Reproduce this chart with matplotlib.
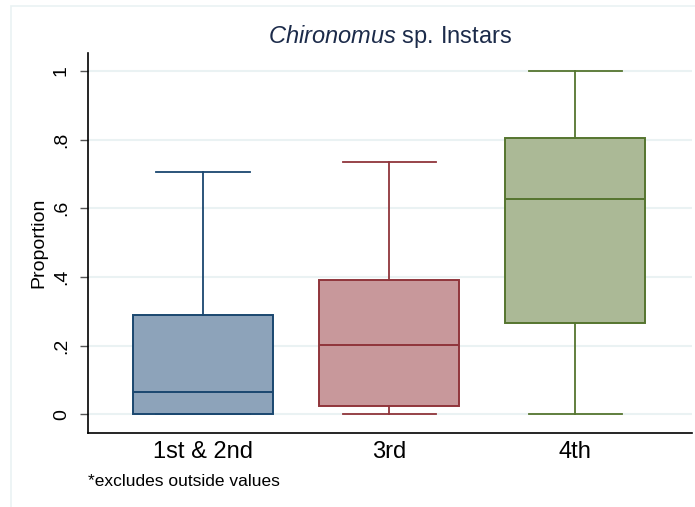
import matplotlib
matplotlib.use("Agg")
import matplotlib.pyplot as plt
from matplotlib.patches import Rectangle

plt.rcParams['font.family'] = ['Liberation Sans', 'DejaVu Sans']
plt.rcParams['mathtext.fontset'] = 'custom'
plt.rcParams['mathtext.it'] = 'Liberation Sans:italic'
plt.rcParams['mathtext.rm'] = 'Liberation Sans'

# box statistics
groups = ['1st & 2nd', '3rd', '4th']
whislo = [0.0, 0.0, 0.0]
q1 = [0.0, 0.024, 0.267]
med = [0.064, 0.201, 0.626]
q3 = [0.288, 0.390, 0.806]
whishi = [0.706, 0.735, 1.0]

yticks = [0, 0.2, 0.4, 0.6, 0.8, 1.0]
ytick_labels = ['0', '.2', '.4', '.6', '.8', '1']

edge_cols = ['#1A476F', '#90353B', '#55752F']
fill_cols = ['#8DA3BA', '#C8989B', '#ABB996']
grid_col = '#EAF2F3'

stats = []
for i in range(len(groups)):
    stats.append(dict(label=groups[i], whislo=whislo[i], q1=q1[i], med=med[i],
                      q3=q3[i], whishi=whishi[i], fliers=[]))

fig = plt.figure(figsize=(6.95, 5.07), dpi=100)
fig.patches.append(Rectangle((11/695, -0.1), 1.2, (507-6)/507 + 0.1,
                             transform=fig.transFigure, fill=False,
                             edgecolor=grid_col, lw=1.2, zorder=0))
ax = fig.add_axes([88/695, (507-433)/507, (692-88)/695, (433-53)/507])

for i in range(len(groups)):
    ax.bxp([stats[i]], positions=[i+1], widths=0.75, patch_artist=True,
           showfliers=False,
           boxprops=dict(facecolor=fill_cols[i], edgecolor=edge_cols[i], lw=1.4),
           medianprops=dict(color=edge_cols[i], lw=1.4),
           whiskerprops=dict(color=edge_cols[i], lw=1.3),
           capprops=dict(color=edge_cols[i], lw=1.3), capwidths=0.5)

ax.set_xlim(0.382, 3.628)
ax.set_ylim(-0.054, 1.052)
ax.set_yticks(yticks)
ax.set_yticklabels(ytick_labels, rotation=90, va='center', fontsize=14)
ax.set_xticks([1, 2, 3])
ax.set_xticklabels(groups, fontsize=17)
ax.tick_params(axis='x', length=0, pad=6)
ax.tick_params(axis='y', length=6, width=1, color='#555555', pad=7)
ax.yaxis.grid(True, color=grid_col, lw=1.5)
ax.set_axisbelow(True)
for s in ['top', 'right']:
    ax.spines[s].set_visible(False)
ax.spines['left'].set_linewidth(1.2)
ax.spines['bottom'].set_linewidth(1.2)

ax.set_ylabel('Proportion', fontsize=14, labelpad=4)
ax.set_title(r'$\it{Chironomus}$ sp. Instars', fontsize=17, color='#1C2B4A', pad=7)
fig.text(88/695, 1 - 481/507, '*excludes outside values', fontsize=12.5, va='center')

fig.savefig('out.png', dpi=100)
